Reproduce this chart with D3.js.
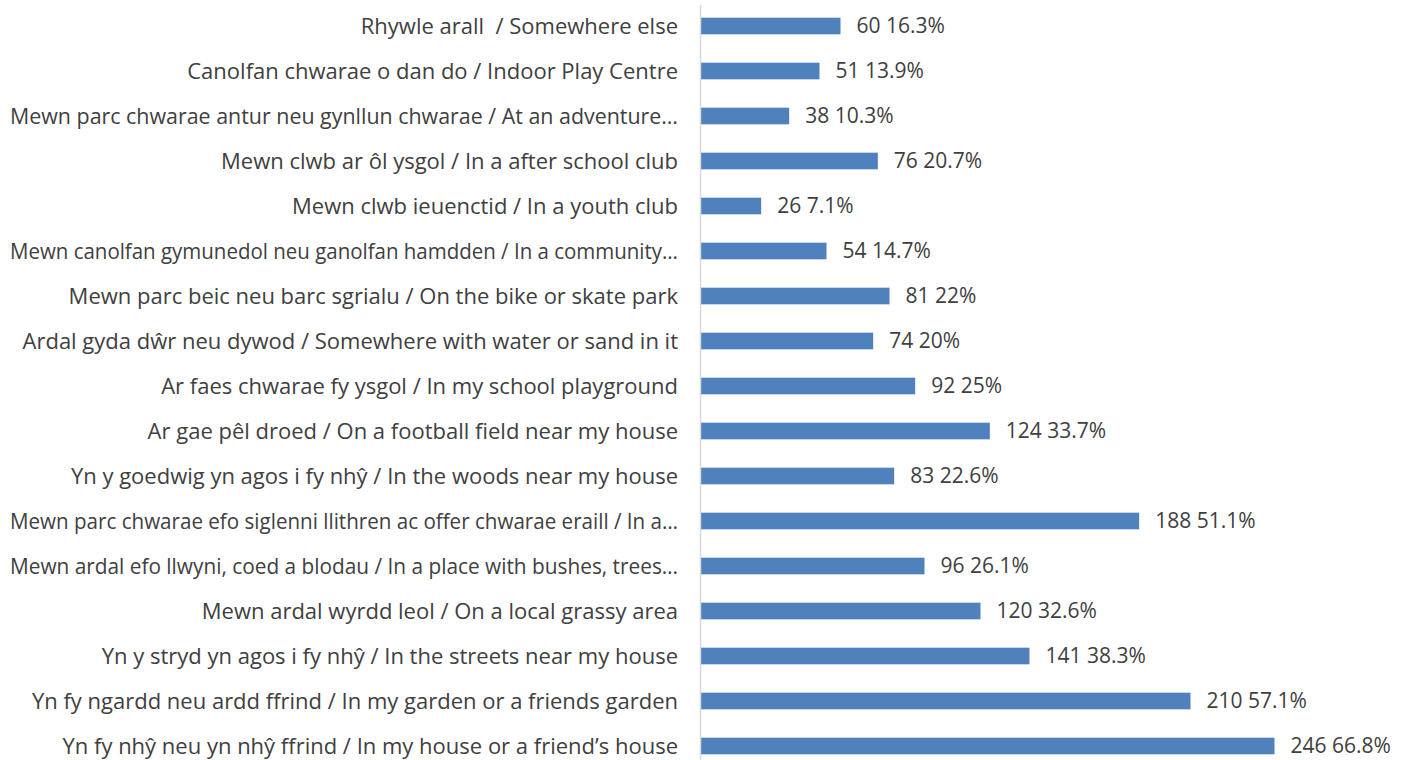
<!DOCTYPE html>
<html>
<head>
<meta charset="utf-8">
<script src="https://cdn.jsdelivr.net/npm/d3@7"></script>
<style>
  body { margin: 0; background: #fff; }
  #chart text { font-family: "Open Sans", sans-serif; white-space: pre; }
</style>
</head>
<body>
<div id="chart"></div>
<script>
// categories top to bottom
const categories = [
  "Rhywle arall  / Somewhere else",
  "Canolfan chwarae o dan do / Indoor Play Centre",
  "Mewn parc chwarae antur neu gynllun chwarae / At an adventure…",
  "Mewn clwb ar ôl ysgol / In a after school club",
  "Mewn clwb ieuenctid / In a youth club",
  "Mewn canolfan gymunedol neu ganolfan hamdden / In a community…",
  "Mewn parc beic neu barc sgrialu / On the bike or skate park",
  "Ardal gyda dŵr neu dywod / Somewhere with water or sand in it",
  "Ar faes chwarae fy ysgol / In my school playground",
  "Ar gae pêl droed / On a football field near my house",
  "Yn y goedwig yn agos i fy nhŷ / In the woods near my house",
  "Mewn parc chwarae efo siglenni llithren ac offer chwarae eraill / In a…",
  "Mewn ardal efo llwyni, coed a blodau / In a place with bushes, trees…",
  "Mewn ardal wyrdd leol / On a local grassy area",
  "Yn y stryd yn agos i fy nhŷ / In the streets near my house",
  "Yn fy ngardd neu ardd ffrind / In my garden or a friends garden",
  "Yn fy nhŷ neu yn nhŷ ffrind / In my house or a friend’s house"
];
const counts = [60, 51, 38, 76, 26, 54, 81, 74, 92, 124, 83, 188, 96, 120, 141, 210, 246];
const percents = ["16.3%", "13.9%", "10.3%", "20.7%", "7.1%", "14.7%", "22%", "20%", "25%",
  "33.7%", "22.6%", "51.1%", "26.1%", "32.6%", "38.3%", "57.1%", "66.8%"];

const width = 1411, height = 760;
const axisX = 700.5;
const labelRight = 678;
const maxLabelW = 668;

const svg = d3.select("#chart").append("svg")
  .attr("width", width).attr("height", height);

const x = d3.scaleLinear().domain([0, 246]).range([axisX, axisX + 574]);
const y = d3.scaleBand().domain(categories).range([3.5, 768.5]).paddingInner(0.63).paddingOuter(0.315);

// bars
svg.selectAll("rect.bar")
  .data(categories)
  .join("rect")
  .attr("class", "bar")
  .attr("x", x(0))
  .attr("y", d => y(d))
  .attr("width", (d, i) => x(counts[i]) - x(0))
  .attr("height", y.bandwidth())
  .attr("fill", "#4f81bd");

// vertical axis line
svg.append("line")
  .attr("x1", axisX).attr("x2", axisX)
  .attr("y1", 5).attr("y2", height)
  .attr("stroke", "#d9d9d9").attr("stroke-width", 1.5);

// category labels
svg.selectAll("text.cat")
  .data(categories)
  .join("text")
  .attr("class", "cat")
  .attr("x", labelRight)
  .attr("y", d => y(d) + y.bandwidth() / 2)
  .attr("dy", "0.35em")
  .attr("text-anchor", "end")
  .attr("font-size", 22)
  .attr("fill", "#404040")
  .text(d => d)
  .each(function() {
    // squeeze the long (already truncated) labels so they stay inside the page
    if (this.getComputedTextLength() > maxLabelW) {
      d3.select(this)
        .attr("textLength", maxLabelW)
        .attr("lengthAdjust", "spacingAndGlyphs");
    }
  });

// value labels
svg.selectAll("text.val")
  .data(categories)
  .join("text")
  .attr("class", "val")
  .attr("x", (d, i) => x(counts[i]) + 16)
  .attr("y", d => y(d) + y.bandwidth() / 2)
  .attr("dy", "0.35em")
  .attr("font-size", 21)
  .attr("fill", "#404040")
  .text((d, i) => counts[i] + " " + percents[i]);
</script>
</body>
</html>
